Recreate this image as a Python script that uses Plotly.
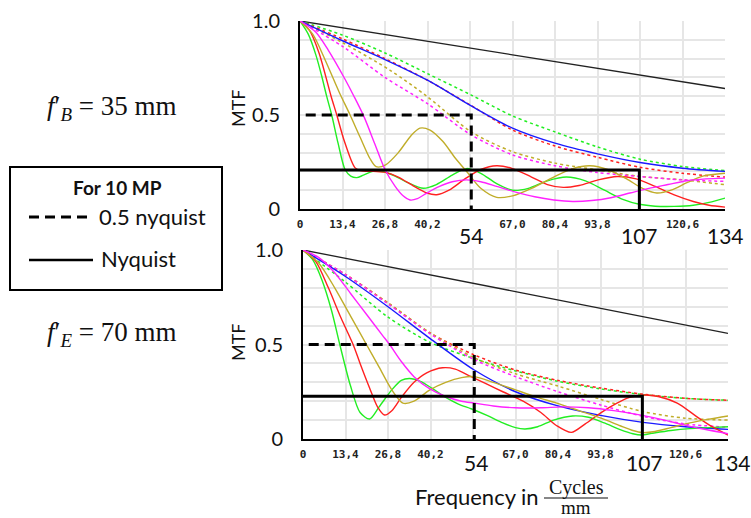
import plotly.graph_objects as go

W, H = 751, 518

# ---------------- data: f'_B = 35 mm (top panel) ----------------
top_black_x = [0, 67, 134]
top_black_y = [1.0, 0.82, 0.641]

top_blue_x = [0, 13.4, 26.8, 40.2, 54, 67, 80.4, 93.8, 107.2, 120.6, 134]
top_blue_y = [1.0, 0.895, 0.795, 0.685, 0.548, 0.43, 0.35, 0.293, 0.247, 0.217, 0.2]

top_red_dot_x = [0, 13.4, 26.8, 40.2, 54, 67, 80.4, 93.8, 107.2, 120.6, 134]
top_red_dot_y = [1.0, 0.905, 0.80, 0.685, 0.55, 0.42, 0.335, 0.275, 0.222, 0.19, 0.17]

top_green_dot_x = [0, 13.4, 26.8, 40.2, 54, 67, 80.4, 93.8, 107.2, 120.6, 134]
top_green_dot_y = [1.0, 0.925, 0.83, 0.72, 0.606, 0.495, 0.41, 0.33, 0.265, 0.226, 0.205]

top_olive_dot_x = [0, 13.4, 28.4, 40.2, 54, 67, 80.4, 93.8, 107.2, 120.6, 134]
top_olive_dot_y = [1.0, 0.885, 0.738, 0.597, 0.41, 0.305, 0.244, 0.208, 0.173, 0.155, 0.129]

top_mag_dot_x = [0, 13.4, 26.8, 40.2, 54, 67, 80.4, 93.8, 107.2, 120.6, 134]
top_mag_dot_y = [1.0, 0.865, 0.70, 0.56, 0.394, 0.288, 0.23, 0.194, 0.173, 0.155, 0.147]

top_green_x = [0, 2.6, 5, 6.8, 8.4, 10, 12, 14.2, 16, 17.9, 20, 23, 26.3, 30, 34, 38.9, 43, 48, 52.5,
               57, 62, 67, 72, 78, 84, 90, 96, 102, 107, 112, 118, 124, 129, 134]
top_green_y = [1.0, 0.93, 0.82, 0.71, 0.6, 0.5, 0.35, 0.21, 0.175, 0.167, 0.18, 0.2, 0.198, 0.175, 0.14,
               0.11, 0.13, 0.18, 0.215, 0.19, 0.135, 0.1, 0.11, 0.15, 0.17, 0.15, 0.1, 0.05, 0.025,
               0.015, 0.014, 0.02, 0.035, 0.058]

top_red_x = [0, 3, 6, 9.8, 11.6, 14, 17.3, 19, 23, 27, 31, 36, 40, 43.1, 47, 52, 57, 62, 67, 73, 78,
             83, 88, 94, 100, 106, 112, 118, 124, 129, 134]
top_red_y = [1.0, 0.95, 0.83, 0.6, 0.5, 0.36, 0.22, 0.205, 0.2, 0.195, 0.17, 0.12, 0.085, 0.076, 0.1,
             0.16, 0.21, 0.23, 0.215, 0.17, 0.13, 0.115, 0.125, 0.155, 0.173, 0.16, 0.12, 0.075,
             0.04, 0.02, 0.01]

top_olive_x = [0, 4, 8, 12.4, 15.8, 19, 22, 24, 27, 31, 35, 37.8, 41, 45, 49, 53, 57, 62, 67, 73, 80,
               86, 91.4, 97, 103, 108, 112.5, 117, 122, 127, 134]
top_olive_y = [1.0, 0.93, 0.79, 0.62, 0.5, 0.38, 0.27, 0.225, 0.235, 0.3, 0.39, 0.43, 0.42, 0.36, 0.27,
               0.19, 0.11, 0.062, 0.07, 0.11, 0.17, 0.215, 0.23, 0.21, 0.16, 0.11, 0.085, 0.1, 0.14,
               0.175, 0.19]

top_mag_x = [0, 5, 8.9, 14.2, 17, 20.2, 23.5, 26.8, 30, 32.5, 34.7, 37, 40, 44, 48, 52.5, 57, 62, 68,
             74, 80, 86, 92, 98, 104, 110, 116, 122, 128, 134]
top_mag_y = [1.0, 0.94, 0.845, 0.69, 0.6, 0.49, 0.35, 0.21, 0.12, 0.07, 0.048, 0.055, 0.085, 0.12,
             0.145, 0.155, 0.145, 0.12, 0.09, 0.065, 0.048, 0.04, 0.045, 0.06, 0.085, 0.11, 0.13,
             0.15, 0.16, 0.164]

# ---------------- data: f'_E = 70 mm (bottom panel) ----------------
bot_black_x = [0, 67, 134]
bot_black_y = [1.0, 0.78, 0.559]

bot_blue_x = [0, 13.4, 26.8, 40.2, 54, 67, 80.4, 93.8, 107.2, 120.6, 134]
bot_blue_y = [1.0, 0.86, 0.70, 0.53, 0.365, 0.25, 0.175, 0.125, 0.088, 0.065, 0.051]

bot_red_dot_x = [0, 13.4, 26.8, 40.2, 54, 67, 80.4, 93.8, 107.2, 120.6, 134]
bot_red_dot_y = [1.0, 0.87, 0.72, 0.56, 0.445, 0.365, 0.31, 0.27, 0.237, 0.215, 0.205]

bot_green_dot_x = [0, 13.4, 26.8, 40.2, 54, 67, 80.4, 93.8, 107.2, 120.6, 134]
bot_green_dot_y = [1.0, 0.83, 0.645, 0.51, 0.425, 0.36, 0.305, 0.265, 0.235, 0.215, 0.205]

bot_olive_dot_x = [0, 13.4, 26.8, 40.2, 54, 67, 80.4, 93.8, 107.2, 120.6, 134]
bot_olive_dot_y = [1.0, 0.87, 0.72, 0.56, 0.43, 0.345, 0.28, 0.21, 0.145, 0.11, 0.1]

bot_mag_dot_x = [0, 13.4, 26.8, 40.2, 54, 67, 80.4, 93.8, 107.2, 120.6, 134]
bot_mag_dot_y = [1.0, 0.87, 0.715, 0.555, 0.42, 0.33, 0.25, 0.18, 0.12, 0.08, 0.062]

bot_green_x = [0, 3, 6, 9, 11.6, 15, 18, 21, 24, 28, 31, 33.6, 37, 41, 45, 49, 53, 58, 63, 67, 70, 74,
               79, 85, 90, 95, 100, 104, 106.7, 110, 116, 122, 128, 134]
bot_green_y = [1.0, 0.95, 0.84, 0.68, 0.5, 0.28, 0.14, 0.106, 0.17, 0.26, 0.31, 0.32, 0.305, 0.265,
               0.22, 0.185, 0.16, 0.125, 0.085, 0.06, 0.053, 0.065, 0.1, 0.122, 0.115, 0.085, 0.05,
               0.028, 0.021, 0.03, 0.045, 0.055, 0.06, 0.065]

bot_red_x = [0, 4, 8, 12, 15.8, 18, 21, 23.5, 25.7, 28, 31, 35, 39, 44, 48, 53, 58, 63, 69.4, 75, 80,
             84.6, 89, 94, 99, 103, 107.7, 112, 118, 124, 129, 134]
bot_red_y = [1.0, 0.94, 0.8, 0.64, 0.5, 0.4, 0.27, 0.17, 0.127, 0.15, 0.22, 0.3, 0.35, 0.377, 0.37,
             0.33, 0.29, 0.25, 0.2, 0.14, 0.07, 0.035, 0.08, 0.14, 0.19, 0.22, 0.233, 0.225, 0.19,
             0.12, 0.065, 0.021]

bot_olive_x = [0, 5, 10, 15, 20, 24, 28, 31.5, 35, 40, 45, 50, 54, 60, 67, 74, 80, 87, 94, 100, 104,
               107, 111, 116, 122, 128, 134]
bot_olive_y = [1.0, 0.93, 0.8, 0.65, 0.5, 0.38, 0.26, 0.19, 0.2, 0.26, 0.3, 0.325, 0.33, 0.3, 0.26,
               0.22, 0.19, 0.15, 0.11, 0.07, 0.045, 0.034, 0.04, 0.06, 0.085, 0.105, 0.122]

bot_mag_x = [0, 5, 10, 15, 20, 25, 27.3, 31, 35, 40, 45, 50, 54, 60, 67, 75, 82, 90, 98, 107, 114,
             120, 127, 134]
bot_mag_y = [1.0, 0.96, 0.88, 0.77, 0.66, 0.55, 0.5, 0.41, 0.33, 0.265, 0.225, 0.2, 0.19, 0.175,
             0.165, 0.165, 0.17, 0.165, 0.15, 0.125, 0.1, 0.075, 0.05, 0.028]

# ---------------- reference markers (for 10 MP) ----------------
half_nyquist = 54
nyquist = 107
top_half_level, top_nyq_level = 0.5, 0.208
bot_half_level, bot_nyq_level = 0.5, 0.226

small_tick_vals = [0, 13.4, 26.8, 40.2, 67.0, 80.4, 93.8, 120.6]
small_tick_text = ["0", "13,4", "26,8", "40,2", "67,0", "80,4", "93,8", "120,6"]
big_tick_vals = [54, 107, 134]
big_tick_text = ["54", "107", "134"]
y_tick_vals = [0, 0.5, 1.0]
y_tick_text = ["0", "0.5", "1.0"]

GREEN = "#22ee22"
RED = "#ff2020"
OLIVE = "#c0ad2a"
MAG = "#ff22ff"
BLUE = "#1a1aff"

fig = go.Figure()


def add(x, y, color, dot, xa, ya, width=1.4):
    fig.add_trace(go.Scatter(
        x=x, y=y, mode="lines", xaxis=xa, yaxis=ya, showlegend=False, hoverinfo="skip",
        line=dict(color=color, width=width, dash="dot" if dot else "solid",
                  shape="spline", smoothing=0.8)))


panels = [
    ("x", "y", dict(black=(top_black_x, top_black_y), blue=(top_blue_x, top_blue_y),
                    rdot=(top_red_dot_x, top_red_dot_y), gdot=(top_green_dot_x, top_green_dot_y),
                    odot=(top_olive_dot_x, top_olive_dot_y), mdot=(top_mag_dot_x, top_mag_dot_y),
                    g=(top_green_x, top_green_y), r=(top_red_x, top_red_y),
                    o=(top_olive_x, top_olive_y), m=(top_mag_x, top_mag_y)),
     top_half_level, top_nyq_level),
    ("x2", "y2", dict(black=(bot_black_x, bot_black_y), blue=(bot_blue_x, bot_blue_y),
                      rdot=(bot_red_dot_x, bot_red_dot_y), gdot=(bot_green_dot_x, bot_green_dot_y),
                      odot=(bot_olive_dot_x, bot_olive_dot_y), mdot=(bot_mag_dot_x, bot_mag_dot_y),
                      g=(bot_green_x, bot_green_y), r=(bot_red_x, bot_red_y),
                      o=(bot_olive_x, bot_olive_y), m=(bot_mag_x, bot_mag_y)),
     bot_half_level, bot_nyq_level),
]

for xa, ya, d, hl, nl in panels:
    add(*d["black"], "#222222", False, xa, ya, 1.3)
    add(*d["gdot"], GREEN, True, xa, ya, 1.5)
    add(*d["rdot"], RED, True, xa, ya, 1.5)
    add(*d["odot"], OLIVE, True, xa, ya, 1.5)
    add(*d["mdot"], MAG, True, xa, ya, 1.5)
    add(*d["blue"], BLUE, False, xa, ya, 1.4)
    add(*d["g"], GREEN, False, xa, ya)
    add(*d["r"], RED, False, xa, ya)
    add(*d["o"], OLIVE, False, xa, ya)
    add(*d["m"], MAG, False, xa, ya)
    # 0.5 nyquist (dashed) and nyquist (solid) markers
    fig.add_trace(go.Scatter(x=[1.8, half_nyquist, half_nyquist], y=[hl, hl, 0], mode="lines",
                             xaxis=xa, yaxis=ya, showlegend=False, hoverinfo="skip",
                             line=dict(color="black", width=3, dash="10px,6px")))
    fig.add_trace(go.Scatter(x=[0, nyquist, nyquist], y=[nl, nl, 0], mode="lines",
                             xaxis=xa, yaxis=ya, showlegend=False, hoverinfo="skip",
                             line=dict(color="black", width=3)))

GRID = "#e6e6e6"
BIG = "Lato"


def xaxis_cfg(dom):
    return dict(domain=dom, range=[0, 134], showgrid=True, gridcolor=GRID, gridwidth=2,
                tickvals=small_tick_vals, ticktext=small_tick_text, ticks="",
                tickfont=dict(family="DejaVu Sans Mono", size=11, color="#222", weight="bold"),
                ticklabelstandoff=4, zeroline=False, automargin=False,
                showline=True, linecolor="black", linewidth=2,
                minor=dict(tickmode="linear", tick0=0, dtick=13.4, showgrid=True,
                           gridcolor=GRID, gridwidth=2))


def yaxis_cfg(dom, anchor):
    return dict(domain=dom, range=[0, 1], anchor=anchor, showgrid=True, gridcolor=GRID,
                gridwidth=2, tickvals=y_tick_vals, ticktext=y_tick_text, ticks="",
                tickfont=dict(family=BIG, size=20, color="#111"), ticklabelstandoff=14,
                zeroline=False, showline=True, linecolor="black", linewidth=2, automargin=False,
                minor=dict(tickmode="linear", tick0=0, dtick=0.1, showgrid=True,
                           gridcolor=GRID, gridwidth=2))


def px(X):
    return X / W


def py(Y):
    return 1 - Y / H


fig.update_layout(
    width=W, height=H, margin=dict(l=0, r=0, t=0, b=0, pad=0, autoexpand=False),
    paper_bgcolor="white", plot_bgcolor="white", showlegend=False,
    xaxis=dict(**xaxis_cfg([px(300), px(725)]), anchor="y"),
    yaxis=yaxis_cfg([py(209), py(21)], "x"),
    xaxis2=dict(**xaxis_cfg([px(303), px(728)]), anchor="y2"),
    yaxis2=yaxis_cfg([py(439), py(250)], "x2"),
)

ann = []
# big x labels
for xr, Yc, shifts in (("x", 235, (0, 0, 0)), ("x2", 462, (2, 2, 4))):
    for v, t, s in zip(big_tick_vals, big_tick_text, shifts):
        ann.append(dict(x=v, xref=xr, y=py(Yc), yref="paper", text=t, showarrow=False,
                        xshift=s, font=dict(family=BIG, size=21, color="#111"),
                        xanchor="center", yanchor="middle"))
# MTF titles
for Yc in (108, 342):
    ann.append(dict(x=px(238), y=py(Yc), xref="paper", yref="paper", text="MTF",
                    textangle=-90, showarrow=False, font=dict(family=BIG, size=18, color="#111"),
                    xanchor="center", yanchor="middle"))

SERIF = "Liberation Serif"


def focal(Yc, sub, val):
    ann.append(dict(x=px(45), y=py(Yc), xref="paper", yref="paper",
                    text="<i>f</i>′<sub><i>" + sub + "</i></sub> = " + val + " mm",
                    showarrow=False, font=dict(family=SERIF, size=27, color="#111"),
                    xanchor="left", yanchor="middle"))


focal(108, "B", "35")
focal(334, "E", "70")

# legend box
ann.append(dict(x=px(117), y=py(187), xref="paper", yref="paper", text="<b>For 10 MP</b>",
                showarrow=False, font=dict(family=BIG, size=19, color="#111"),
                xanchor="center", yanchor="middle"))
ann.append(dict(x=px(97), y=py(217), xref="paper", yref="paper", text="0.5 nyquist",
                showarrow=False, font=dict(family=BIG, size=22, color="#111"),
                xanchor="left", yanchor="middle"))
ann.append(dict(x=px(99), y=py(258), xref="paper", yref="paper", text="Nyquist",
                showarrow=False, font=dict(family=BIG, size=22, color="#111"),
                xanchor="left", yanchor="middle"))

# axis title
ann.append(dict(x=px(541), y=py(496), xref="paper", yref="paper", text="Frequency in",
                showarrow=False, font=dict(family=BIG, size=22, color="#111"),
                xanchor="right", yanchor="middle"))
ann.append(dict(x=px(576), y=py(487), xref="paper", yref="paper", text="Cycles",
                showarrow=False, font=dict(family=SERIF, size=20, color="#111"),
                xanchor="center", yanchor="middle"))
ann.append(dict(x=px(576), y=py(507), xref="paper", yref="paper", text="mm",
                showarrow=False, font=dict(family=SERIF, size=19, color="#111"),
                xanchor="center", yanchor="middle"))

shapes = [
    dict(type="rect", xref="paper", yref="paper", x0=px(10), x1=px(222), y0=py(290), y1=py(167),
         line=dict(color="black", width=2)),
    dict(type="line", xref="paper", yref="paper", x0=px(29), x1=px(91), y0=py(217), y1=py(217),
         line=dict(color="black", width=3, dash="10px,6px")),
    dict(type="line", xref="paper", yref="paper", x0=px(29), x1=px(93), y0=py(260), y1=py(260),
         line=dict(color="black", width=2.5)),
    dict(type="line", xref="paper", yref="paper", x0=px(544), x1=px(608), y0=py(498), y1=py(498),
         line=dict(color="#111", width=1.2)),
]

fig.update_layout(annotations=ann, shapes=shapes)
fig.write_html("out.html", config={"displayModeBar": False},
               post_script="document.body.style.margin='0px';")
